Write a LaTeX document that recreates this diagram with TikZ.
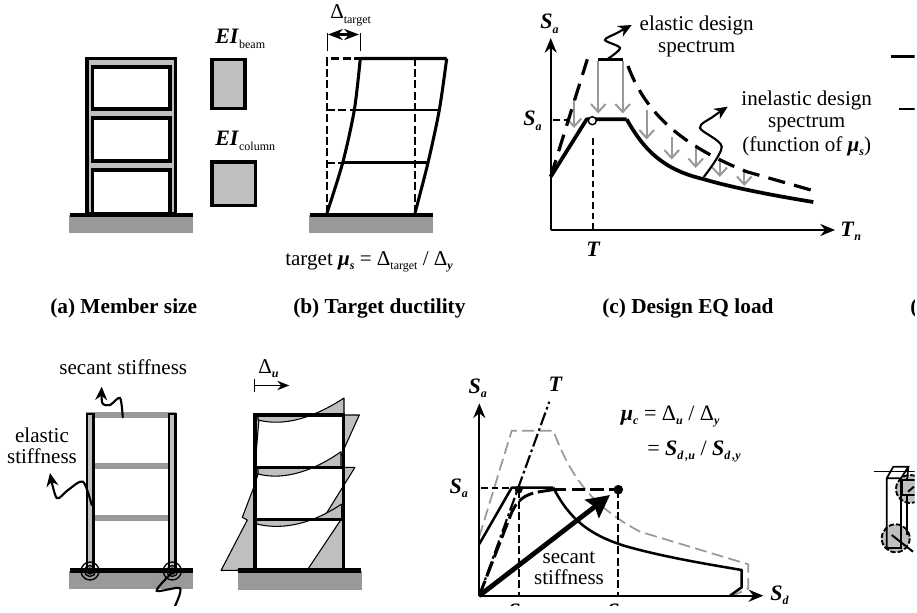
\documentclass[tikz,border=0pt]{standalone}
\usepackage{fontspec}
\setmainfont{Liberation Serif}
\usetikzlibrary{
    arrows.meta
}
\newcommand{\bi}[1]{\textbf{\textit{#1}}}
\newcommand{\lowbi}[1]{\raisebox{-.42ex}{\fontsize{9}{10}\selectfont\bi{#1}}}
\newcommand{\lowrm}[1]{\raisebox{-.42ex}{\fontsize{9}{10}\selectfont #1}}

\begin{document}
\begin{tikzpicture}[>=Stealth,x=0.75pt,y=-0.75pt,
    txt/.style={font=\fontsize{15.8}{18}\selectfont,inner sep=0pt,anchor=base,align=center},
    sym/.style={font=\fontsize{16.5}{18}\selectfont,inner sep=0pt,anchor=base west},
    capt/.style={font=\fontsize{16}{18}\selectfont\bfseries,inner sep=0pt,anchor=base west},
    soil/.style={fill=black!40,draw=none},
    grade/.style={line width=3.4pt},
    steel/.style={line width=2.3pt},
    thinsteel/.style={line width=2pt},
    dashline/.style={line width=1.6pt,dash pattern=on 6pt off 2.5pt},
    longdash/.style={line width=2.4pt,dash pattern=on 13pt off 7pt},
    wiggle/.style={line width=1.6pt,-{Stealth[length=10pt,width=9pt]},line cap=round},
    drop/.style={line width=1.5pt,black!40,-{Straight Barb[length=6pt,width=11pt]}},
    axis/.style={line width=1.7pt,-{Stealth[length=11pt,width=9pt]}},
    mdiag/.style={fill=black!25,draw=black,line width=.8pt,line join=round},
    gdash/.style={black!40,line width=1.3pt,dash pattern=on 9pt off 4pt}
]

\useasboundingbox (0,0) rectangle (917,613);
\clip (0,0) rectangle (914.5,605.5);

%====================================================
% Member size
%====================================================

\fill[soil] (69,215) rectangle (193,233);
\filldraw[fill=black!25,steel] (87,58.5) rectangle (175.5,214);
\filldraw[fill=white,steel] (92.5,67) rectangle (170,109);
\filldraw[fill=white,steel] (92.5,118) rectangle (170,161);
\filldraw[fill=white,steel] (92.5,170) rectangle (170,214);
\draw[grade] (70,215) -- (193,215);

\filldraw[fill=black!25,steel] (212,59.5) rectangle (245,108.5);
\filldraw[fill=black!25,steel] (212,162) rectangle (255.5,205.5);

\node[sym] (eiBeam) at (215,44) {\bi{EI}\lowrm{beam}};
\node[sym] (eiColumn) at (215,146) {\bi{EI}\lowrm{column}};

%====================================================
% Target ductility
%====================================================

\coordinate (B1) at (327,213);
\coordinate (B2) at (415,213);

\fill[soil] (309,215) rectangle (433,233);
\draw[grade] (310,215) -- (433,215);

\draw[dashline] (B1) -- (327,58.5) -- (360,58.5);
\draw[dashline] (B2) -- (415,58.5);
\draw[dashline] (327,110) -- (354,110);
\draw[dashline] (327,162.7) -- (343,162.7);

\draw[steel,line join=round] plot[smooth] coordinates {(B1) (342.7,162.7) (354.3,110) (360.3,58.5)}
    -- (446.7,58.5) plot[smooth] coordinates {(446.7,58.5) (439.3,110) (428,162.7) (B2)};
\draw[thinsteel] (354.3,110) -- (439.3,110);
\draw[thinsteel] (342.7,162.7) -- (428,162.7);

\draw[line width=.6pt] (327,33) -- (327,51.5);
\draw[line width=.6pt] (360,33) -- (360,51.5);
\draw[line width=1.8pt,<->] (328,34.5) -- (359,34.5);

\node[txt,anchor=base west] (deltaTarget) at (330,19) {Δ\lowrm{target}};
\node[txt,anchor=base west] (targetEq) at (285,265) {target \bi{μ}\lowbi{s} = Δ\lowrm{target} / Δ\lowbi{y}};

%====================================================
% Design EQ load
%====================================================

\coordinate (O) at (550.7,230);

\draw[axis] (O) -- (550.7,38);
\draw[axis] (O) -- (835,230);

\draw[drop] (574,98) -- (574,128);
\draw[drop] (598.3,61) -- (598.3,113.5);
\draw[drop] (622.7,61) -- (622.7,113.5);
\draw[drop] (646.7,110) -- (646.7,139.5);
\draw[drop] (671.7,137) -- (671.7,159.5);
\draw[drop] (695.7,145) -- (695.7,168);
\draw[drop] (719.7,160) -- (719.7,177);
\draw[drop] (744.3,172) -- (744.3,186);

\draw[longdash] (O |- 0,176.7) -- (587.3,59.3);
\draw[line width=2.4pt] (598,59.3) -- (623.3,59.3);
\draw[longdash] (628,66) .. controls (645,112) and (680,145) .. (746.7,171.7) -- (813.3,190.7);

\draw[line width=2.8pt,line join=round] (626.7,119.3) .. controls (645,152) and (665,170) .. (703,179) .. controls (730,187) and (770,195) .. (813.3,202);
\draw[line width=2.8pt,line join=round] (550.7,176.7) -- (586.7,119.3) -- (626.7,119.3);

\draw[line width=1.2pt,dash pattern=on 5pt off 3pt] (553,120) -- (572,120);
\draw[line width=1.2pt,dash pattern=on 5pt off 3pt] (592.7,138) -- (592.7,230);
\filldraw[fill=white,line width=1.1pt] (592.3,120.7) circle (4);

\draw[wiggle] plot[smooth] coordinates {(608,58.7) (620,48) (605,40) (617,33) (631.7,25)};
\draw[wiggle] plot[smooth] coordinates {(704,176.7) (721.7,146.7) (700,128) (713,116.7) (727.7,106.7)};

\node[sym] (saTop) at (540,29) {\bi{S}\lowbi{a}};
\node[sym] (saLeft) at (523,126) {\bi{S}\lowbi{a}};
\node[sym] (period) at (586,256) {\bi{T}};
\node[sym] (tn) at (840,236) {\bi{T}\lowbi{n}};

\node[txt] (elasticSp) at (696.7,30.7) {elastic design};
\node[txt] (elasticSpb) at (696.7,52.7) {spectrum};
\node[txt] (inelasticSp) at (806.7,106) {inelastic design};
\node[txt] (inelasticSpb) at (806.7,128) {spectrum};
\node[txt] (inelasticSpc) at (806.7,151.7) {(function of \bi{μ}\lowbi{s})};

%====================================================
% Captions and cut pieces at the right edge
%====================================================

\node[capt] (capA) at (50,313) {(a) Member size};
\node[capt] (capB) at (293,313) {(b) Target ductility};
\node[capt] (capC) at (602,313) {(c) Design EQ load};
\node[capt] (capD) at (910,313) {(};

\draw[line width=2.2pt] (890.7,56.7) -- (917,56.7);
\draw[line width=2.2pt] (899,109) -- (917,109);

%====================================================
% Hinged frame
%====================================================

\fill[soil] (69,571) rectangle (193,588.7);

\draw[black!40,line width=4.5pt] (94,466.3) -- (168,466.3);
\draw[black!40,line width=4.5pt] (94,518) -- (168,518);
\draw[black!40,line width=4.5pt] (86,414.7) -- (176,414.7);

\filldraw[fill=black!25,line width=1.9pt] (87,414) rectangle (93.5,570);
\filldraw[fill=black!25,line width=1.9pt] (169,414) rectangle (175.5,570);
\draw[grade] (70,570.5) -- (193,570.5);

\draw[line width=1pt] (90,571) circle (9);
\draw[line width=1pt] (90,571) circle (5.5);
\draw[line width=1pt] (90,571) circle (3);
\draw[line width=1pt] (172.3,571) circle (9);
\draw[line width=1pt] (172.3,571) circle (5.5);
\draw[line width=1pt] (172.3,571) circle (3);

\draw[wiggle] plot[smooth] coordinates {(122.7,417.3) (120,398) (110,405) (102.3,403) (101.7,386.7)};
\draw[wiggle] plot[smooth] coordinates {(91.7,505) (83,481.7) (68,490) (56.7,498) (50,473)};
\draw[wiggle,-] plot[smooth] coordinates {(171.7,573) (156.7,590.7) (180,588.3) (175,606)};

\node[txt] (secantLab) at (123.3,374.3) {secant stiffness};
\node[txt] (elasticLab) at (42,442.3) {elastic};
\node[txt] (elasticLabb) at (42,463.3) {stiffness};

%====================================================
% Moments in the frame
%====================================================

\fill[soil] (238,571) rectangle (362,589.7);

\filldraw[mdiag] (255,519) -- (255,570) -- (221,570.5) -- (247.3,520) -- (242.3,517.3) -- (254,486.7) -- (260,468) -- (255,467) -- cycle;
\filldraw[mdiag] (259.3,415) -- (255,467) -- (255,415) -- cycle;

\filldraw[mdiag] (344,415) -- (359.3,415) -- (335.7,467.3) -- (344,467.3) -- cycle;
\filldraw[mdiag] (344,467.3) -- (355,467.3) -- (322.7,519.3) -- (344,519.3) -- cycle;
\filldraw[mdiag] (344,519.3) -- (340.7,520) -- (307.3,570) -- (344,570) -- cycle;

\filldraw[mdiag] (258,415) -- (258,420) .. controls (285,427) and (315,417) .. (344,398) -- (344,415) -- cycle;
\filldraw[mdiag] (258,467.3) -- (258,474) .. controls (285,481) and (315,470) .. (341,451.7) -- (341,467.3) -- cycle;
\filldraw[mdiag] (256.7,519.3) -- (256.7,524) .. controls (285,531) and (315,522) .. (341.7,504) -- (341.7,519.3) -- cycle;

\draw[steel] (255,570) -- (255,415) -- (343.3,415) -- (343.3,570);
\draw[steel] (255,467.3) -- (343.3,467.3);
\draw[steel] (255,519.3) -- (343.3,519.3);
\draw[grade] (238,570.5) -- (361,570.5);

\draw[line width=.7pt] (254.3,379) -- (254.3,392.3);
\draw[line width=1.1pt,-{Stealth[length=9pt,width=7pt]}] (254.3,385.5) -- (289.3,385.5);
\node[txt,anchor=base west] (deltaU) at (258,373.3) {Δ\lowbi{u}};

%====================================================
% Capacity spectrum
%====================================================

\coordinate (Q) at (479.3,595.7);
\coordinate (Y) at (518.7,489.7);
\coordinate (U) at (618.3,489.7);

\draw[gdash,line join=round] (479.3,536.7) -- (511.7,430.7) -- (553.3,430.7) .. controls (570,475) and (590,505) .. (640,531.7) -- (748.3,564.3) -- (748.3,588.3) -- (733.3,595.7);

\draw[line width=1.9pt,line join=round] (479.3,544) -- (511.7,487.7) -- (553.3,487.7);
\draw[line width=1.9pt,line join=round] (553.3,487.7) .. controls (570,520) and (590,535) .. (625,546) .. controls (660,556) and (700,563) .. (741.7,570) -- (741.7,587.3) -- (730,595.7);

\draw[axis] (Q) -- (479.3,403.3);
\draw[axis] (Q) -- (763.3,595.7);

\draw[line width=1.6pt,dash pattern=on 10pt off 2.5pt on 2pt off 2.5pt] (Q) -- (549.3,401.7);
\draw[line width=1pt,dash pattern=on 5pt off 3pt] (481,488) -- (511,488);
\draw[dashline] (Y) -- (518.7,595);
\draw[dashline] (U) -- (618.3,595);
\draw[line width=2.2pt,dash pattern=on 12pt off 3.5pt] (Q) -- (510,516.7) .. controls (516,500) and (525,494) .. (540,491.7) -- (553,489.7);
\draw[line width=2.4pt,dash pattern=on 10pt off 4pt] (553,489.7) -- (U);

\filldraw (Y) circle (3.6);
\filldraw (U) circle (4.5);

\draw[line width=3.6pt,-{Stealth[length=17pt,width=17pt,inset=2.5pt]}] (Q) -- (610,495);

\node[sym] (saUp) at (468.3,393.3) {\bi{S}\lowbi{a}};
\node[sym] (periodT) at (548.3,391.7) {\bi{T}};
\node[sym] (saMid) at (449.3,493) {\bi{S}\lowbi{a}};
\node[sym] (sd) at (770,600) {\bi{S}\lowbi{d}};
\node[sym] (sdy) at (508,618) {\bi{S}};
\node[sym] (sdu) at (607,618) {\bi{S}};

\node[txt] (secantMid) at (569,563.3) {secant};
\node[txt] (secantMidb) at (569,584.3) {stiffness};

\node[sym] (muEq) at (620.7,420) {\bi{μ}\lowbi{c} = Δ\lowbi{u} / Δ\lowbi{y}};
\node[sym] (muEqb) at (647,455.7) {= \bi{S}\lowbi{d\,,u} / \bi{S}\lowbi{d\,,y}};

%====================================================
% Cut piece at the right edge
%====================================================

\draw[line width=1pt] (874,471.7) -- (917,471.7);
\filldraw[fill=black!25,dash pattern=on 4pt off 1.5pt,line width=1.4pt] (910,489) circle (14);
\filldraw[fill=black!25,dash pattern=on 4pt off 1.5pt,line width=1.4pt] (895.7,538.3) circle (14);
\draw[line width=1.3pt] (886.7,548) -- (886.7,478.3) -- (893.3,466.7) -- (908.3,466.7) -- (901,478.3) -- (886.7,478.3);
\draw[line width=1.3pt] (901,478.3) -- (901,548) -- (886.7,548);
\draw[line width=1.3pt] (907.3,478.3) -- (907.3,535);
\draw[line width=1.3pt] (908.3,466.7) -- (907.3,478.3);
\filldraw[fill=black!25,line width=1.2pt] (902,480) rectangle (920,495);
\draw[line width=1.5pt] (908,491.7) -- (914,486.7);
\draw[line width=1.5pt] (891.7,535) -- (913,551.7);

\end{tikzpicture}
\end{document}
